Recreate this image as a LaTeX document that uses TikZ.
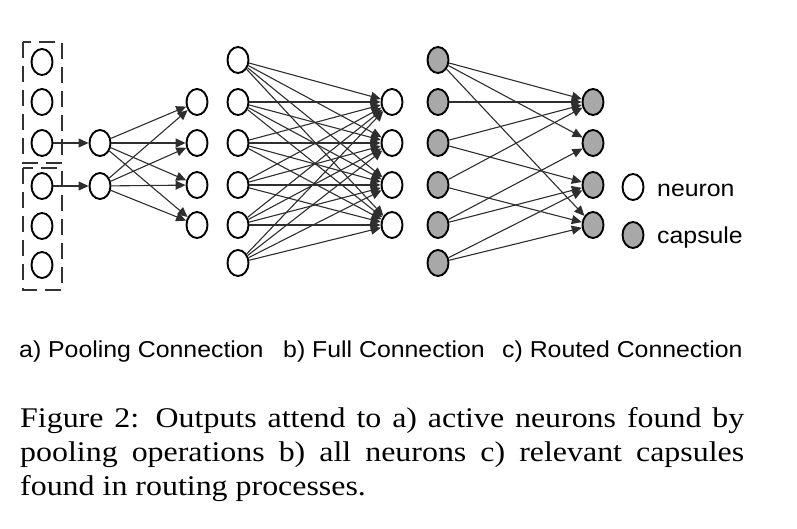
\documentclass[tikz,border=0pt]{standalone}
\usepackage{fontspec}
\setmainfont{Liberation Serif}
\newfontfamily\capfont[FakeStretch=1.12]{Liberation Serif}
\newfontfamily\labfont[FakeStretch=1.08]{Liberation Sans}
\usetikzlibrary{arrows.meta,shapes.geometric}
\definecolor{capgray}{HTML}{A8A8A8}
\definecolor{linegray}{HTML}{2E2E2E}
\definecolor{boxgray}{HTML}{333333}
\begin{document}
\begin{tikzpicture}[x=1pt,y=-1pt,
  unit/.style={draw=black, ellipse, minimum width=21pt, minimum height=26pt, inner sep=0pt, line width=1.9pt},
  neuron/.style={unit, fill=white},
  capsule/.style={unit, fill=capgray},
  conn/.style={draw=linegray, line width=1.1pt, -{Triangle[length=10pt,width=9pt]}},
  poolbox/.style={draw=boxgray, line width=2.5pt, dash pattern=on 16pt off 8pt},
  lab/.style={anchor=base west, inner sep=0pt, font=\labfont\fontsize{23}{27}\selectfont},
  capline/.style={anchor=base west, inner sep=0pt, font=\capfont\fontsize{28.5}{34}\selectfont}]
\useasboundingbox (0,0) rectangle (797,528);

% pooling boxes
\draw[poolbox] (23,42) rectangle (62,163);
\draw[poolbox] (23,168) rectangle (62,290);

% a) pooling connection
\foreach \i/\y in {1/62,2/102,3/143,4/186,5/226,6/265}
  \node[neuron] (ai\i) at (42,\y) {};
\node[neuron] (am1) at (100,143) {};
\node[neuron] (am2) at (100,186) {};
\foreach \j/\y in {1/102,2/143,3/185,4/225}
  \node[neuron] (ao\j) at (197,\y) {};
\draw[conn] (ai3) -- (am1);
\draw[conn] (ai4) -- (am2);
\foreach \m in {1,2}
  \foreach \j in {1,2,3,4}
    \draw[conn] (am\m) -- (ao\j);

% b) full connection
\foreach \i/\y in {1/60,2/102,3/143,4/185,5/225,6/263}
  \node[neuron] (bi\i) at (238,\y) {};
\foreach \j/\y in {1/102,2/143,3/185,4/225}
  \node[neuron] (bo\j) at (392,\y) {};
\foreach \i in {1,...,6}
  \foreach \j in {1,2,3,4}
    \draw[conn] (bi\i) -- (bo\j);

% c) routed connection
\foreach \i/\y in {1/60,2/102,3/143,4/185,5/225,6/263}
  \node[capsule] (ci\i) at (438,\y) {};
\foreach \j/\y in {1/102,2/143,3/185,4/225}
  \node[capsule] (co\j) at (593,\y) {};
\foreach \i/\j in {1/1,1/2,1/4,2/1,3/1,3/3,4/1,4/4,5/2,5/3,6/3,6/4}
  \draw[conn] (ci\i) -- (co\j);

% legend
\node[neuron] (legn) at (633,187) {};
\node[capsule] (legc) at (633,235) {};
\node[lab] (legnt) at (657,196) {neuron};
\node[lab] (legct) at (657,243) {capsule};

% sub-labels
\node[lab] (la) at (19,357) {a) Pooling Connection};
\node[lab] (lb) at (283,357) {b) Full Connection};
\node[lab] (lc) at (502,357) {c) Routed Connection};

% caption
\node[capline] (cap1) at (20,427) {\makebox[724pt][s]{Figure 2: Outputs attend to a) active neurons found by}};
\node[capline] (cap2) at (20,461) {\makebox[724pt][s]{pooling operations b) all neurons c) relevant capsules}};
\node[capline] (cap3) at (20,495) {found in routing processes.};
\end{tikzpicture}
\end{document}
